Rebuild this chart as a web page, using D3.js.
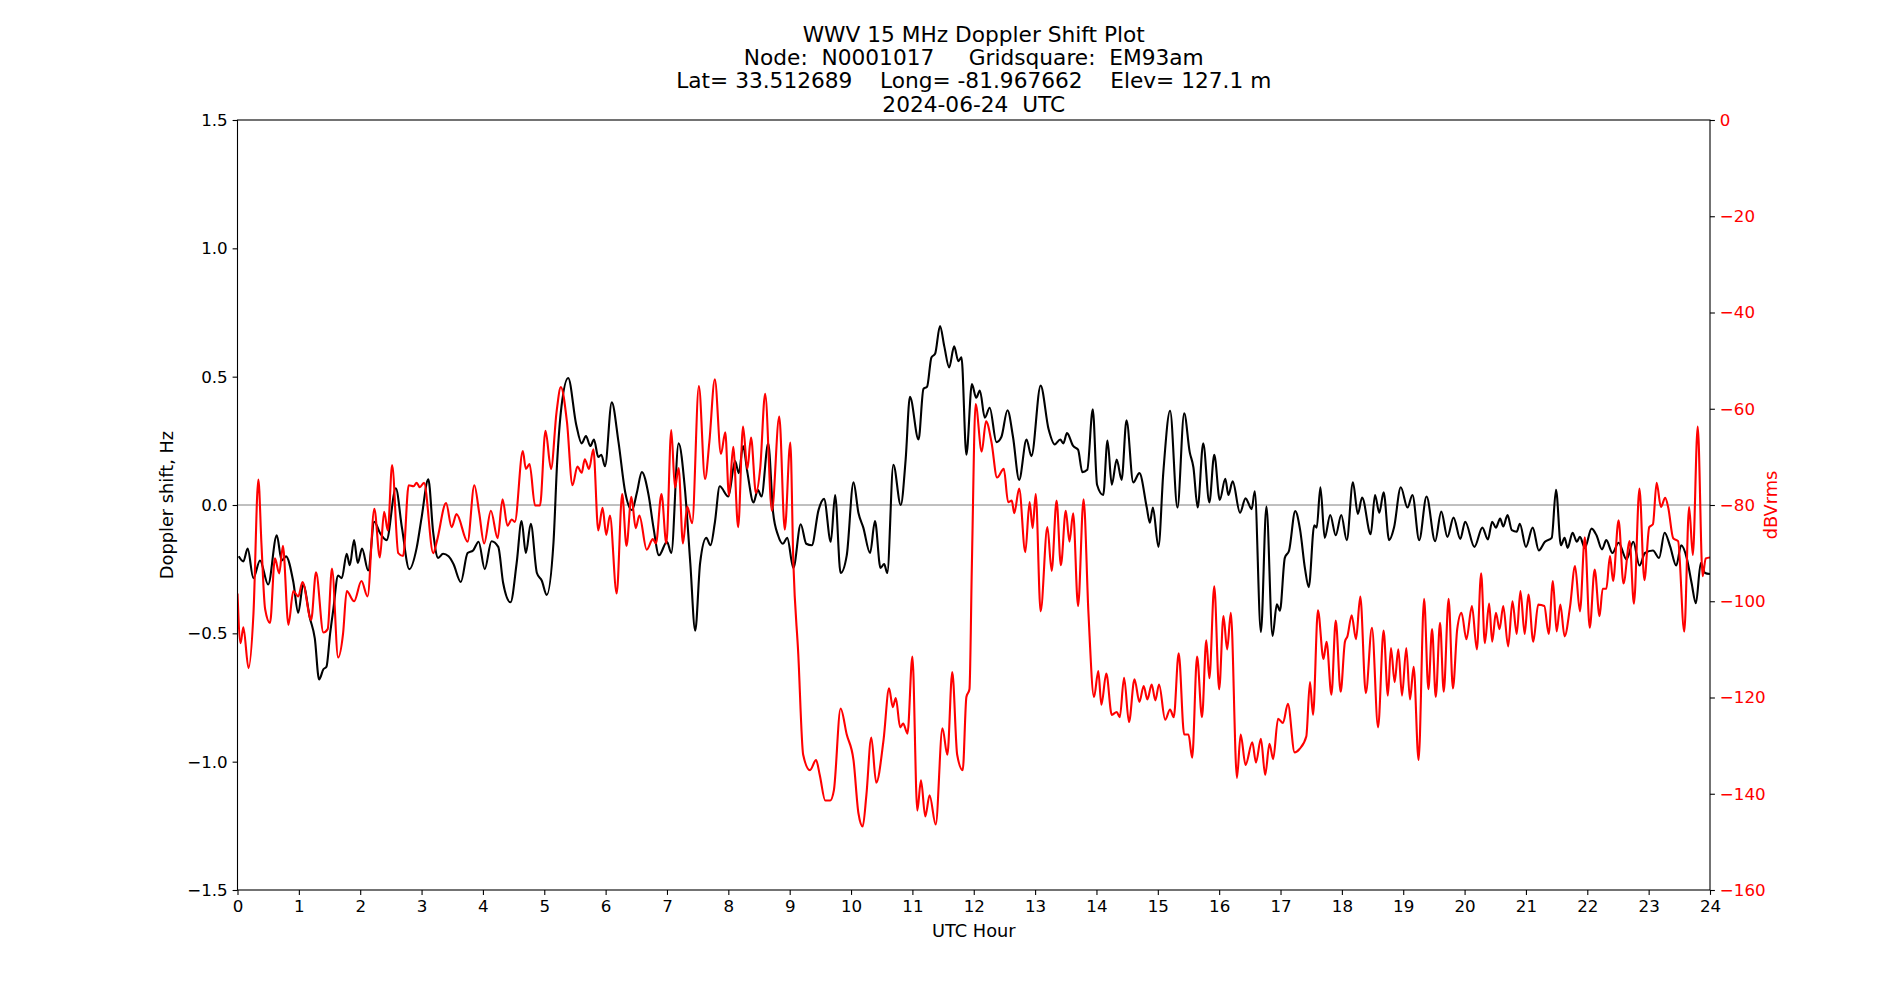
<!DOCTYPE html>
<html>
<head>
<meta charset="utf-8">
<script src="https://cdn.jsdelivr.net/npm/d3@7"></script>
<style>
  body { margin: 0; background: #fff; }
  svg text { font-family: "DejaVu Sans", sans-serif; }
</style>
</head>
<body>
<div id="chart"></div>
<script>
// title lines
var titleLines = [
    "WWV 15 MHz Doppler Shift Plot",
    "Node:  N0001017     Gridsquare:  EM93am",
    "Lat= 33.512689    Long= -81.967662    Elev= 127.1 m",
    "2024-06-24  UTC"
];

var hourTicks = d3.range(0, 25);
var dopTicks = [-1.5, -1.0, -0.5, 0.0, 0.5, 1.0, 1.5];
var pwrTicks = [0, -20, -40, -60, -80, -100, -120, -140, -160];

// Doppler shift (Hz)
var dopHours = [0.02,0.095,0.166,0.258,0.367,0.50,0.64,0.72,0.79,0.91,0.99,1.07,1.18,1.26,1.33,1.40,1.45,1.51,1.56,1.64,1.70,1.78,1.83,1.90,1.96,2.03,2.13,2.23,2.32,2.43,2.58,2.68,2.80,2.92,3.00,3.11,3.19,3.27,3.35,3.44,3.52,3.64,3.75,3.84,3.93,4.03,4.14,4.25,4.33,4.45,4.55,4.63,4.70,4.78,4.88,4.96,5.04,5.15,5.21,5.28,5.39,5.52,5.61,5.68,5.75,5.81,5.88,5.93,5.99,6.10,6.21,6.32,6.43,6.51,6.59,6.70,6.78,6.87,7.00,7.07,7.19,7.29,7.38,7.46,7.54,7.64,7.71,7.78,7.86,8.00,8.11,8.17,8.24,8.31,8.41,8.48,8.54,8.65,8.73,8.81,8.89,8.96,9.06,9.18,9.27,9.36,9.47,9.56,9.67,9.74,9.83,9.93,10.04,10.12,10.20,10.31,10.39,10.48,10.54,10.59,10.69,10.81,10.89,10.96,11.10,11.18,11.24,11.31,11.37,11.45,11.52,11.60,11.68,11.75,11.80,11.88,11.97,12.04,12.10,12.18,12.26,12.37,12.45,12.55,12.64,12.74,12.86,12.94,13.09,13.22,13.32,13.41,13.46,13.52,13.62,13.70,13.77,13.85,13.94,14.01,14.11,14.18,14.25,14.33,14.41,14.49,14.60,14.70,14.82,14.87,14.92,15.01,15.09,15.20,15.32,15.43,15.52,15.58,15.65,15.74,15.84,15.92,16.01,16.10,16.15,16.22,16.34,16.43,16.53,16.58,16.68,16.77,16.87,16.94,16.99,17.07,17.14,17.24,17.32,17.40,17.46,17.55,17.59,17.65,17.72,17.81,17.90,17.99,18.08,18.18,18.26,18.33,18.47,18.54,18.61,18.68,18.77,18.85,18.96,19.07,19.15,19.26,19.38,19.52,19.62,19.72,19.82,19.93,20.01,20.16,20.29,20.38,20.45,20.51,20.58,20.63,20.70,20.77,20.85,20.90,21.00,21.11,21.21,21.31,21.42,21.49,21.57,21.63,21.68,21.76,21.83,21.88,21.96,22.07,22.15,22.24,22.31,22.41,22.51,22.64,22.75,22.85,22.94,23.07,23.17,23.26,23.35,23.45,23.53,23.62,23.70,23.77,23.85,23.92,24.00];
var dopValues = [-0.20,-0.22,-0.17,-0.285,-0.216,-0.31,-0.118,-0.216,-0.20,-0.30,-0.42,-0.31,-0.44,-0.52,-0.68,-0.64,-0.63,-0.50,-0.41,-0.275,-0.285,-0.19,-0.235,-0.137,-0.226,-0.17,-0.255,-0.065,-0.108,-0.137,0.065,-0.088,-0.25,-0.167,-0.05,0.10,-0.108,-0.206,-0.19,-0.20,-0.23,-0.30,-0.187,-0.177,-0.143,-0.25,-0.141,-0.163,-0.304,-0.379,-0.226,-0.063,-0.187,-0.073,-0.265,-0.295,-0.35,-0.147,0.167,0.383,0.495,0.314,0.24,0.269,0.23,0.255,0.187,0.196,0.151,0.40,0.245,0.049,-0.02,0.049,0.128,0.039,-0.088,-0.196,-0.143,-0.187,0.24,0.069,-0.226,-0.49,-0.226,-0.128,-0.157,-0.069,0.073,0.033,0.171,0.124,0.23,0.128,0.01,0.059,0.033,0.24,-0.03,-0.118,-0.151,-0.128,-0.245,-0.075,-0.151,-0.157,-0.02,0.024,-0.143,0.039,-0.265,-0.196,0.088,-0.03,-0.088,-0.187,-0.063,-0.245,-0.23,-0.265,0.157,0.0,0.177,0.422,0.255,0.452,0.461,0.575,0.589,0.697,0.618,0.536,0.618,0.56,0.575,0.196,0.471,0.418,0.446,0.34,0.379,0.245,0.265,0.369,0.265,0.098,0.255,0.19,0.465,0.295,0.236,0.255,0.24,0.28,0.23,0.216,0.128,0.137,0.373,0.079,0.039,0.251,0.079,0.177,0.098,0.33,0.088,0.124,-0.01,-0.069,-0.01,-0.163,0.128,0.367,-0.01,0.357,0.206,0.147,-0.01,0.24,0.01,0.196,0.02,0.102,0.039,0.092,-0.03,0.026,-0.016,0.053,-0.495,-0.006,-0.51,-0.387,-0.412,-0.206,-0.177,-0.024,-0.098,-0.25,-0.32,-0.079,-0.088,0.069,-0.128,-0.039,-0.118,-0.039,-0.137,0.088,-0.035,0.029,-0.114,0.039,-0.03,0.049,-0.137,-0.088,0.069,-0.01,0.039,-0.137,0.033,-0.141,-0.026,-0.124,-0.049,-0.132,-0.065,-0.163,-0.088,-0.134,-0.065,-0.088,-0.053,-0.084,-0.039,-0.098,-0.104,-0.073,-0.163,-0.088,-0.177,-0.143,-0.128,0.059,-0.157,-0.128,-0.167,-0.108,-0.143,-0.124,-0.167,-0.092,-0.118,-0.173,-0.137,-0.187,-0.147,-0.212,-0.143,-0.236,-0.187,-0.177,-0.206,-0.108,-0.161,-0.236,-0.157,-0.206,-0.304,-0.383,-0.226,-0.265,-0.269];

// received power (dBVrms)
var pwrHours = [0.00,0.05,0.095,0.18,0.26,0.34,0.39,0.45,0.53,0.61,0.68,0.74,0.83,0.91,0.99,1.06,1.20,1.28,1.40,1.47,1.54,1.64,1.72,1.78,1.90,2.02,2.12,2.23,2.32,2.39,2.45,2.52,2.62,2.70,2.79,2.87,2.92,2.97,3.04,3.19,3.25,3.40,3.49,3.57,3.75,3.86,3.94,4.02,4.13,4.24,4.32,4.40,4.47,4.52,4.65,4.70,4.76,4.85,4.93,5.02,5.11,5.20,5.27,5.37,5.46,5.54,5.61,5.66,5.73,5.80,5.88,5.95,6.01,6.07,6.18,6.27,6.34,6.42,6.49,6.55,6.67,6.77,6.82,6.91,6.99,7.07,7.13,7.19,7.26,7.33,7.41,7.52,7.62,7.69,7.78,7.88,7.95,8.01,8.08,8.16,8.24,8.31,8.37,8.45,8.52,8.60,8.71,8.83,8.92,9.01,9.06,9.14,9.22,9.33,9.43,9.49,9.58,9.66,9.72,9.83,9.93,10.04,10.12,10.19,10.25,10.33,10.41,10.53,10.62,10.68,10.73,10.80,10.85,10.92,11.00,11.08,11.14,11.21,11.28,11.38,11.49,11.57,11.65,11.73,11.82,11.88,11.93,11.97,12.03,12.13,12.20,12.29,12.38,12.49,12.56,12.62,12.66,12.74,12.84,12.91,12.96,13.01,13.09,13.20,13.27,13.35,13.42,13.50,13.56,13.62,13.70,13.79,13.87,13.96,14.03,14.08,14.16,14.25,14.33,14.38,14.45,14.53,14.62,14.70,14.77,14.83,14.90,14.96,15.02,15.12,15.20,15.26,15.34,15.43,15.50,15.56,15.64,15.72,15.79,15.84,15.92,16.00,16.07,16.13,16.19,16.29,16.35,16.43,16.54,16.60,16.68,16.75,16.82,16.88,16.96,17.04,17.12,17.23,17.31,17.42,17.48,17.53,17.61,17.70,17.75,17.83,17.90,17.98,18.05,18.09,18.16,18.23,18.30,18.39,18.49,18.59,18.68,18.75,18.80,18.86,18.92,18.98,19.05,19.11,19.17,19.25,19.34,19.41,19.47,19.53,19.60,19.66,19.74,19.81,19.88,19.95,20.03,20.12,20.20,20.27,20.33,20.40,20.45,20.51,20.57,20.63,20.71,20.78,20.85,20.91,20.98,21.04,21.12,21.20,21.30,21.37,21.44,21.50,21.56,21.63,21.72,21.80,21.88,21.96,22.04,22.12,22.20,22.25,22.31,22.37,22.42,22.51,22.59,22.69,22.76,22.85,22.93,23.01,23.07,23.13,23.20,23.27,23.32,23.40,23.48,23.58,23.66,23.72,23.80,23.88,23.93,24.00];
var pwrValues = [-98.4,-108.7,-105.4,-113.9,-102.6,-74.7,-88,-101.6,-104.5,-91.1,-94.2,-88.5,-104.9,-97.9,-99,-96,-103.9,-94,-106.5,-105.8,-93.2,-111.7,-106.8,-97.9,-100,-95.8,-99,-80.8,-90.9,-81.4,-85.3,-71.7,-90,-90.6,-75.9,-76.1,-75.4,-76.3,-75.4,-90,-87.5,-79.6,-84.6,-81.9,-87.6,-75.9,-81.7,-88,-81.2,-86.9,-78.8,-84.3,-83,-83.5,-68.8,-72.5,-71.5,-80.1,-80.1,-64.6,-72.5,-60.7,-55.5,-62.8,-75.9,-72,-73.3,-70.5,-72.5,-68.4,-85.3,-80.6,-86.2,-82.2,-98.4,-77.7,-88.5,-78.3,-84.8,-82.2,-89.3,-87.1,-88,-77.7,-88,-64.4,-76.4,-72.3,-88,-80.3,-83.8,-55.3,-74.6,-67,-53.9,-69.4,-64.9,-78,-67.9,-84.6,-63.7,-72.5,-66,-77.5,-72.3,-56.9,-81.2,-61.6,-85.1,-67,-92.1,-111,-131.9,-135.1,-133,-136.1,-141.4,-141.4,-139.3,-122.3,-127.7,-133,-144,-146.8,-140.3,-128.3,-137.7,-128.8,-118.1,-122,-120.1,-126.2,-125.4,-127.5,-111.5,-143.5,-137.2,-144.7,-140.3,-146.4,-126.4,-131.9,-114.7,-131.9,-135.1,-119.9,-118.3,-92.1,-59,-68.9,-62.6,-67,-74.3,-72.5,-79.4,-79.1,-81.7,-76.6,-89.8,-79.4,-84.8,-77.7,-102.1,-84.6,-93.7,-79.1,-92.5,-81.2,-87.6,-81.7,-101,-78.8,-102.6,-119.9,-114.5,-121.5,-115,-123.6,-123,-124.1,-115.9,-125.1,-116.2,-120.9,-117.6,-120.4,-117.3,-120.6,-117.3,-124.6,-122.5,-124.1,-110.8,-127.7,-127.7,-132.5,-111.5,-124.1,-108.1,-116,-96.9,-118.3,-103.1,-110,-102.4,-136.7,-127.7,-134,-129.3,-133.5,-128.6,-136.1,-129.6,-132.8,-124.4,-125.3,-121.3,-131.4,-130.7,-128.1,-116.8,-123.6,-101.9,-112,-108.4,-119.4,-104,-118.8,-108.4,-107.3,-102.9,-107.9,-99,-119.1,-105.5,-126.2,-106.1,-119.6,-109.7,-116.8,-110,-119.6,-109.7,-120.4,-113.6,-133,-99.5,-118.3,-105.8,-119.9,-104.5,-118.8,-99.5,-118.1,-105.8,-102.4,-107.9,-101,-110,-94.2,-108.7,-100.5,-108.4,-102.4,-105.8,-101,-109.4,-100,-106.8,-97.9,-106.8,-98.6,-108.4,-100.7,-101,-106.8,-95.8,-106.3,-100.7,-107.3,-101,-92.7,-102.1,-86.7,-105.5,-93.4,-103.1,-97.4,-97.4,-90.6,-95.8,-83.2,-96.3,-87.5,-100.5,-76.6,-95.6,-84.6,-84,-75.4,-80.4,-78.5,-80.6,-86.9,-87.5,-106.3,-80.4,-90.4,-63.7,-94.8,-91.1,-90.9];

var width = 1900, height = 1000;
var plotLeft = 237.5, plotRight = 1710, plotTop = 120, plotBottom = 890;

var svg = d3.select("#chart").append("svg")
    .attr("width", width)
    .attr("height", height);

var x = d3.scaleLinear().domain([0, 24]).range([plotLeft, plotRight]);
var yDop = d3.scaleLinear().domain([-1.5, 1.5]).range([plotBottom, plotTop]);
var yPwr = d3.scaleLinear().domain([-160, 0]).range([plotBottom, plotTop]);

var minus = function(s) { return s.replace("-", "\u2212"); };

svg.append("defs").append("clipPath")
    .attr("id", "plotclip")
    .append("rect")
    .attr("x", plotLeft).attr("y", plotTop)
    .attr("width", plotRight - plotLeft).attr("height", plotBottom - plotTop);

// zero line
svg.append("line")
    .attr("x1", plotLeft).attr("x2", plotRight)
    .attr("y1", yDop(0)).attr("y2", yDop(0))
    .style("stroke", "#808080")
    .style("stroke-width", 1);

var dopData = dopHours.map(function(h, i) { return [h, dopValues[i]]; });
var pwrData = pwrHours.map(function(h, i) { return [h, pwrValues[i]]; });

var dopLine = d3.line()
    .x(function(d) { return x(d[0]); })
    .y(function(d) { return yDop(d[1]); })
    .curve(d3.curveMonotoneX);

var pwrLine = d3.line()
    .x(function(d) { return x(d[0]); })
    .y(function(d) { return yPwr(d[1]); })
    .curve(d3.curveMonotoneX);

svg.append("path")
    .datum(dopData)
    .attr("clip-path", "url(#plotclip)")
    .attr("d", dopLine)
    .style("fill", "none")
    .style("stroke", "black")
    .style("stroke-width", 2.1)
    .style("stroke-linejoin", "round");

svg.append("path")
    .datum(pwrData)
    .attr("clip-path", "url(#plotclip)")
    .attr("d", pwrLine)
    .style("fill", "none")
    .style("stroke", "red")
    .style("stroke-width", 2.1)
    .style("stroke-linejoin", "round");

// axes
var xAxis = d3.axisBottom(x).tickValues(hourTicks).tickSizeInner(4.9).tickSizeOuter(0).tickPadding(4.9)
    .tickFormat(d3.format("d"));
var yAxis = d3.axisLeft(yDop).tickValues(dopTicks).tickSizeInner(4.9).tickSizeOuter(0).tickPadding(4.9)
    .tickFormat(function(d) { return minus(d3.format(".1f")(d)); });
var y2Axis = d3.axisRight(yPwr).tickValues(pwrTicks).tickSizeInner(4.9).tickSizeOuter(0).tickPadding(4.9)
    .tickFormat(function(d) { return minus(String(d)); });

function styleAxis(g, color) {
    g.select(".domain").remove();
    g.selectAll(".tick line").style("stroke", "black").style("stroke-width", 1.1);
    g.selectAll(".tick text")
        .style("font-family", "'DejaVu Sans', sans-serif")
        .style("font-size", "16.7px")
        .style("fill", color);
}

svg.append("g").attr("transform", "translate(0," + plotBottom + ")").call(xAxis)
    .call(function(g) { styleAxis(g, "black"); });
svg.append("g").attr("transform", "translate(" + plotLeft + ",0)").call(yAxis)
    .call(function(g) { styleAxis(g, "black"); });
svg.append("g").attr("transform", "translate(" + plotRight + ",0)").call(y2Axis)
    .call(function(g) { styleAxis(g, "red"); });

// frame
svg.append("rect")
    .attr("x", plotLeft).attr("y", plotTop)
    .attr("width", plotRight - plotLeft).attr("height", plotBottom - plotTop)
    .style("fill", "none")
    .style("stroke", "black")
    .style("stroke-width", 1.1);

// labels
svg.append("text")
    .attr("x", (plotLeft + plotRight) / 2).attr("y", 937)
    .attr("text-anchor", "middle")
    .style("font-size", "17.8px")
    .text("UTC Hour");

svg.append("text")
    .attr("transform", "translate(173," + (plotTop + plotBottom) / 2 + ") rotate(-90)")
    .attr("text-anchor", "middle")
    .style("font-size", "17.8px")
    .text("Doppler shift, Hz");

svg.append("text")
    .attr("transform", "translate(1777," + (plotTop + plotBottom) / 2 + ") rotate(-90)")
    .attr("text-anchor", "middle")
    .style("font-size", "17.8px")
    .style("fill", "red")
    .text("dBVrms");

svg.selectAll(".title")
    .data(titleLines)
    .enter().append("text")
    .attr("class", "title")
    .attr("x", (plotLeft + plotRight) / 2)
    .attr("y", function(d, i) { return 42 + i * 23.2; })
    .attr("text-anchor", "middle")
    .style("font-size", "21.7px")
    .style("white-space", "pre")
    .attr("xml:space", "preserve")
    .text(function(d) { return d; });
</script>
</body>
</html>
